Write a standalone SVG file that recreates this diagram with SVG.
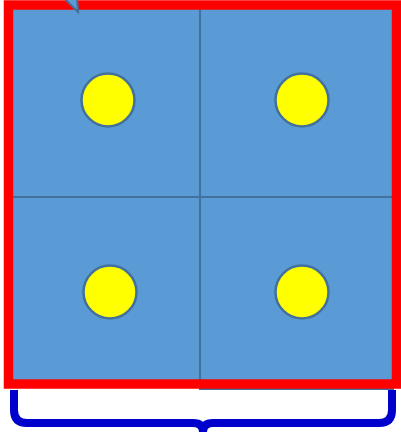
<svg xmlns="http://www.w3.org/2000/svg" width="401" height="432" viewBox="0 0 401 432">
<style>
.cell{fill:#5b9bd5;stroke:#41719c;stroke-width:2}
.dot{fill:#ffff00;stroke:#41719c;stroke-width:2.5}
</style>
<rect width="401" height="432" fill="#fff"/>
<g id="cell-tl"><rect class="cell" x="12" y="6" width="188" height="191"/><circle class="dot" cx="108" cy="100" r="26.5"/></g>
<g id="cell-tr"><rect class="cell" x="200" y="6" width="193" height="191"/><circle class="dot" cx="302" cy="100" r="26.5"/></g>
<g id="cell-bl"><rect class="cell" x="12" y="197" width="188" height="188"/><circle class="dot" cx="110" cy="292" r="26.5"/></g>
<g id="cell-br"><rect class="cell" x="200" y="197" width="193" height="192"/><circle class="dot" cx="302" cy="292" r="26.5"/></g>
<g id="frame"><rect x="8.5" y="5" width="388" height="379" fill="none" stroke="#ff0000" stroke-width="9.5"/></g>
<g id="tab"><polygon points="65,-1 77,-1 78,12" fill="#5b9bd5" stroke="#41719c" stroke-width="2"/></g>
<g id="connectors"><path d="M14,390 L14,410 Q14,423 27,423 L193,423 Q203,423 203,432 Q203,423 213,423 L379,423 Q392,423 392,410 L392,390" fill="none" stroke="#0000cc" stroke-width="8"/></g>
</svg>
